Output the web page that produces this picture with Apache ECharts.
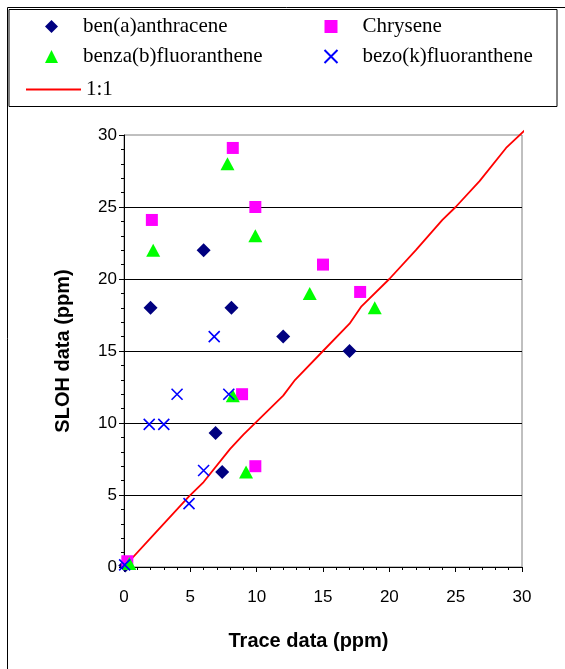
<!DOCTYPE html>
<html>
<head>
<meta charset="utf-8">
<script src="https://cdn.jsdelivr.net/npm/echarts@6/dist/echarts.min.js"></script>
<style>
  html, body { margin: 0; padding: 0; background: #fff; }
  #chart { width: 565px; height: 669px; }
</style>
</head>
<body>
<div id="chart"></div>
<script>
// values (ppm)
const benaX = [0.1, 2.0, 6.0, 8.1, 12.0, 17.0, 6.9, 7.4]
const benaY = [0.1, 18.0, 22.0, 18.0, 16.0, 15.0, 9.3, 6.6]
const chryX = [0.25, 2.1, 8.2, 9.9, 15.0, 17.8, 8.9, 9.9]
const chryY = [0.4, 24.1, 29.1, 25.0, 21.0, 19.1, 12.0, 7.0]
const benbX = [0.4, 2.2, 7.8, 9.9, 14.0, 18.9, 8.2, 9.2]
const benbY = [0.25, 22.0, 28.0, 23.0, 19.0, 18.0, 11.9, 6.6]
const benkX = [0.05, 6.8, 4.0, 7.9, 1.9, 3.0, 6.0, 4.9]
const benkY = [0.15, 16.0, 12.0, 12.0, 9.9, 9.9, 6.7, 4.4]
// 1:1 line vertices
const lineX = [0, 2.0, 4.9, 6.0, 8.0, 9.0, 12.0, 12.9, 15.0, 17.0, 17.9, 20.0, 22.0, 24.0, 25.0, 26.8, 28.8, 30.3]
const lineY = [0, 2.0, 4.9, 5.9, 8.2, 9.2, 11.9, 13.0, 15.0, 16.9, 18.1, 20.0, 22.0, 24.1, 25.0, 26.8, 29.1, 30.4]
const axisTicks = [0, 5, 10, 15, 20, 25, 30]

const pairs = (xs, ys) => xs.map((x, i) => [x, ys[i]])
const CROSS = 'path://M0,0L10,10M0,10L10,0'
const sans = 'Liberation Sans, Arial, sans-serif'
const serif = 'Liberation Serif, Times New Roman, serif'

const chart = echarts.init(document.getElementById('chart'))

const legendText = { color: '#000', fontFamily: serif, fontSize: 21, lineHeight: 20, padding: [0, 0, 0, 20] }
const markerLegend = {
  orient: 'vertical', top: 11,
  itemWidth: 13, itemHeight: 13, itemGap: 9,
  textStyle: legendText
}

const valueAxis = {
  type: 'value',
  min: axisTicks[0],
  max: axisTicks[axisTicks.length - 1],
  interval: 5,
  axisLine: { show: true, lineStyle: { color: '#000', width: 1 } },
  axisTick: { show: true, length: 5, lineStyle: { color: '#000' } },
  minorTick: { show: true, splitNumber: 5, length: 3, lineStyle: { color: '#000' } },
  axisLabel: { color: '#000', fontFamily: sans, fontSize: 17 },
  nameLocation: 'middle',
  nameTextStyle: { color: '#000', fontFamily: sans, fontSize: 20, fontWeight: 'bold' }
}

chart.setOption({
  animation: false,
  backgroundColor: '#fff',
  graphic: [
    { type: 'rect', shape: { x: 7.5, y: 7.5, width: 700, height: 700 }, style: { fill: 'none', stroke: '#000', lineWidth: 1 }, silent: true },
    { type: 'rect', shape: { x: 9, y: 9.5, width: 548, height: 97 }, style: { fill: '#fff', stroke: '#000', lineWidth: 1 }, silent: true }
  ],
  legend: [
    Object.assign({ left: 40, data: ['ben(a)anthracene', 'benza(b)fluoranthene'] }, markerLegend),
    Object.assign({ left: 317, data: ['Chrysene', 'bezo(k)fluoranthene'] }, markerLegend),
    {
      left: 21, top: 74,
      itemWidth: 55, itemHeight: 2,
      textStyle: { color: '#000', fontFamily: serif, fontSize: 21, lineHeight: 20 },
      data: [{ name: '1:1', icon: 'rect' }]
    }
  ],
  grid: {
    left: 124, right: 43, top: 135, bottom: 102,
    show: true, borderColor: '#808080', borderWidth: 1, backgroundColor: '#fff'
  },
  xAxis: Object.assign({}, valueAxis, {
    name: 'Trace data (ppm)',
    nameGap: 64,
    nameTextStyle: Object.assign({}, valueAxis.nameTextStyle, { padding: [0, 29, 0, 0] }),
    axisLabel: Object.assign({}, valueAxis.axisLabel, { margin: 22 }),
    splitLine: { show: false }
  }),
  yAxis: Object.assign({}, valueAxis, {
    name: 'SLOH data (ppm)',
    nameGap: 51,
    axisLabel: Object.assign({}, valueAxis.axisLabel, { margin: 7 }),
    splitLine: { show: true, showMinLine: false, showMaxLine: false, lineStyle: { color: '#000', width: 1 } }
  }),
  series: [
    {
      name: 'ben(a)anthracene', type: 'scatter', clip: false,
      symbol: 'diamond', symbolSize: 14,
      itemStyle: { color: '#000080', opacity: 1 },
      data: pairs(benaX, benaY)
    },
    {
      name: 'Chrysene', type: 'scatter', clip: false,
      symbol: 'rect', symbolSize: 12,
      itemStyle: { color: '#FF00FF', opacity: 1 },
      data: pairs(chryX, chryY)
    },
    {
      name: 'benza(b)fluoranthene', type: 'scatter', clip: false,
      symbol: 'triangle', symbolSize: [14, 13],
      itemStyle: { color: '#00FF00', opacity: 1 },
      data: pairs(benbX, benbY)
    },
    {
      name: 'bezo(k)fluoranthene', type: 'scatter', clip: false,
      symbol: CROSS, symbolSize: 11,
      itemStyle: { color: 'none', borderColor: '#0000FF', borderWidth: 1.6, opacity: 1 },
      data: pairs(benkX, benkY)
    },
    {
      name: '1:1', type: 'line', clip: false, z: 1,
      symbol: 'none', showSymbol: false,
      lineStyle: { color: '#FF0000', width: 1.8 },
      itemStyle: { color: '#FF0000' },
      data: pairs(lineX, lineY)
    }
  ]
})
</script>
</body>
</html>
